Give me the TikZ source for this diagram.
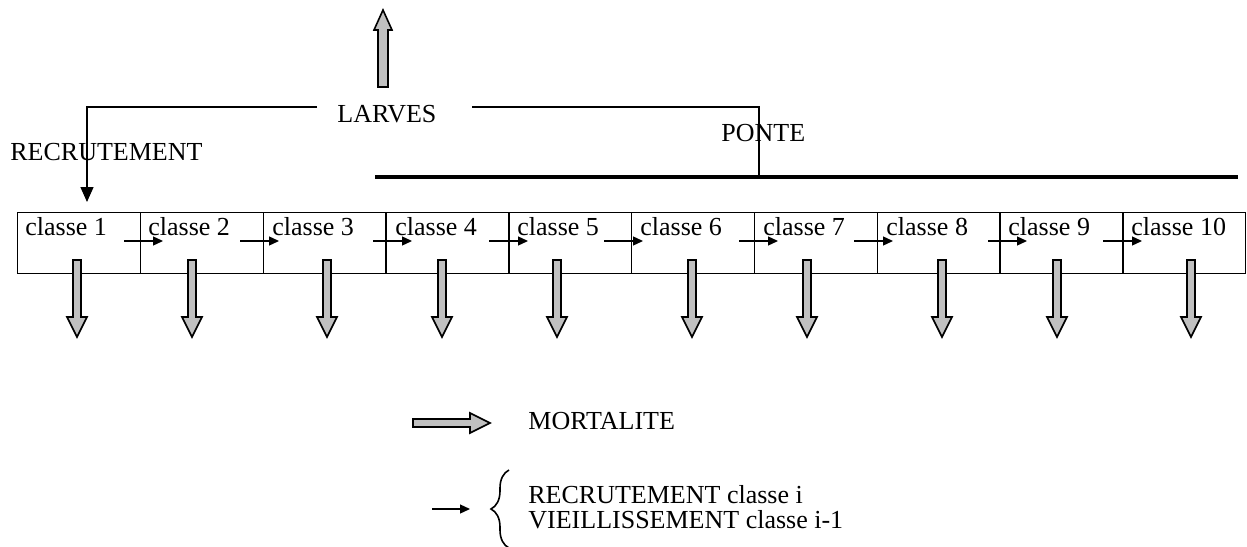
\documentclass[tikz,border=0pt]{standalone}
\usepackage{fontspec}
\setmainfont{Liberation Serif}
\usetikzlibrary{arrows.meta,decorations.pathreplacing,calc}
\definecolor{arrowgray}{RGB}{192,192,192}
\tikzset{
  lbl/.style={anchor=base west,inner sep=0pt,font=\fontsize{13}{15}\selectfont},
  classbox/.style={draw,line width=0.7pt,anchor=north west,minimum width=61.4pt,minimum height=30.5pt,inner sep=0pt},
  thinline/.style={line width=0.65pt},
  smallarrow/.style={line width=0.65pt,-{Triangle[length=5pt,width=4.5pt]}},
  bigarrow/.style={draw,line width=0.8pt,fill=arrowgray,line join=miter}
}
\begin{document}
\begin{tikzpicture}[x=0.5pt,y=-0.5pt]
\useasboundingbox (0,0) rectangle (1247,546);
% class boxes
\foreach \k in {1,...,10}{
  \node[classbox] (c\k) at ({17+122.8*(\k-1)},212) {};
}
\foreach \k/\tx in {1/25,2/148,3/272,4/395,5/517,6/640,7/763,8/886,9/1008,10/1131}{
  \node[lbl] (t\k) at (\tx,235) {classe \k};
}
% ageing arrows
\foreach \s in {124,240,373,489,604,739,854,988,1103}{
  \coordinate (as) at (\s,241);
  \coordinate (ae) at (\s+39,241);
  \draw[smallarrow] (as) -- (ae);
}
% mortality arrows
\foreach \c in {77,192,327,442,557,692,807,942,1057,1191}{
  \draw[bigarrow] (\c-4,260) -- (\c+4,260) -- (\c+4,317) -- (\c+10,317) -- (\c,337) -- (\c-10,317) -- (\c-4,317) -- cycle;
}
% labels
\node[lbl] (larves) at (337,122) {LARVES};
\node[lbl] (recr) at (10,160) {RECRUTEMENT};
\node[lbl] (ponte) at (721,141) {PONTE};
% larves up arrow
\draw[bigarrow] (378,87) -- (378,30) -- (374,30) -- (383,10) -- (392,30) -- (388,30) -- (388,87) -- cycle;
% recruitment connector
\coordinate (lL) at (317,107);
\coordinate (lR) at (472,107);
\coordinate (rtip) at (87,202);
\draw[thinline,-{Triangle[length=7.5pt,width=6.5pt]}] (lL) -- (87,107) -- (rtip);
% ponte connector
\coordinate (pbar) at (759,177);
\draw[thinline] (lR) -- (759,107) -- (pbar);
% spawning bar
\coordinate (barL) at (375,177);
\coordinate (barR) at (1238,177);
\draw[line width=2pt] (barL) -- (barR);
% legend
\draw[bigarrow] (413,419) -- (470,419) -- (470,413) -- (490,423) -- (470,433) -- (470,427) -- (413,427) -- cycle;
\node[lbl] (mort) at (528,429) {MORTALITE};
\coordinate (la1) at (432,509);
\coordinate (la2) at (470,509);
\draw[smallarrow] (la1) -- (la2);
\draw[line width=0.8pt,decorate,decoration={brace,amplitude=9pt}] (509,548) -- (509,470);
\node[lbl] (leg1) at (528,503) {RECRUTEMENT classe i};
\node[lbl] (leg2) at (528,528) {VIEILLISSEMENT classe i-1};
\end{tikzpicture}
\end{document}
